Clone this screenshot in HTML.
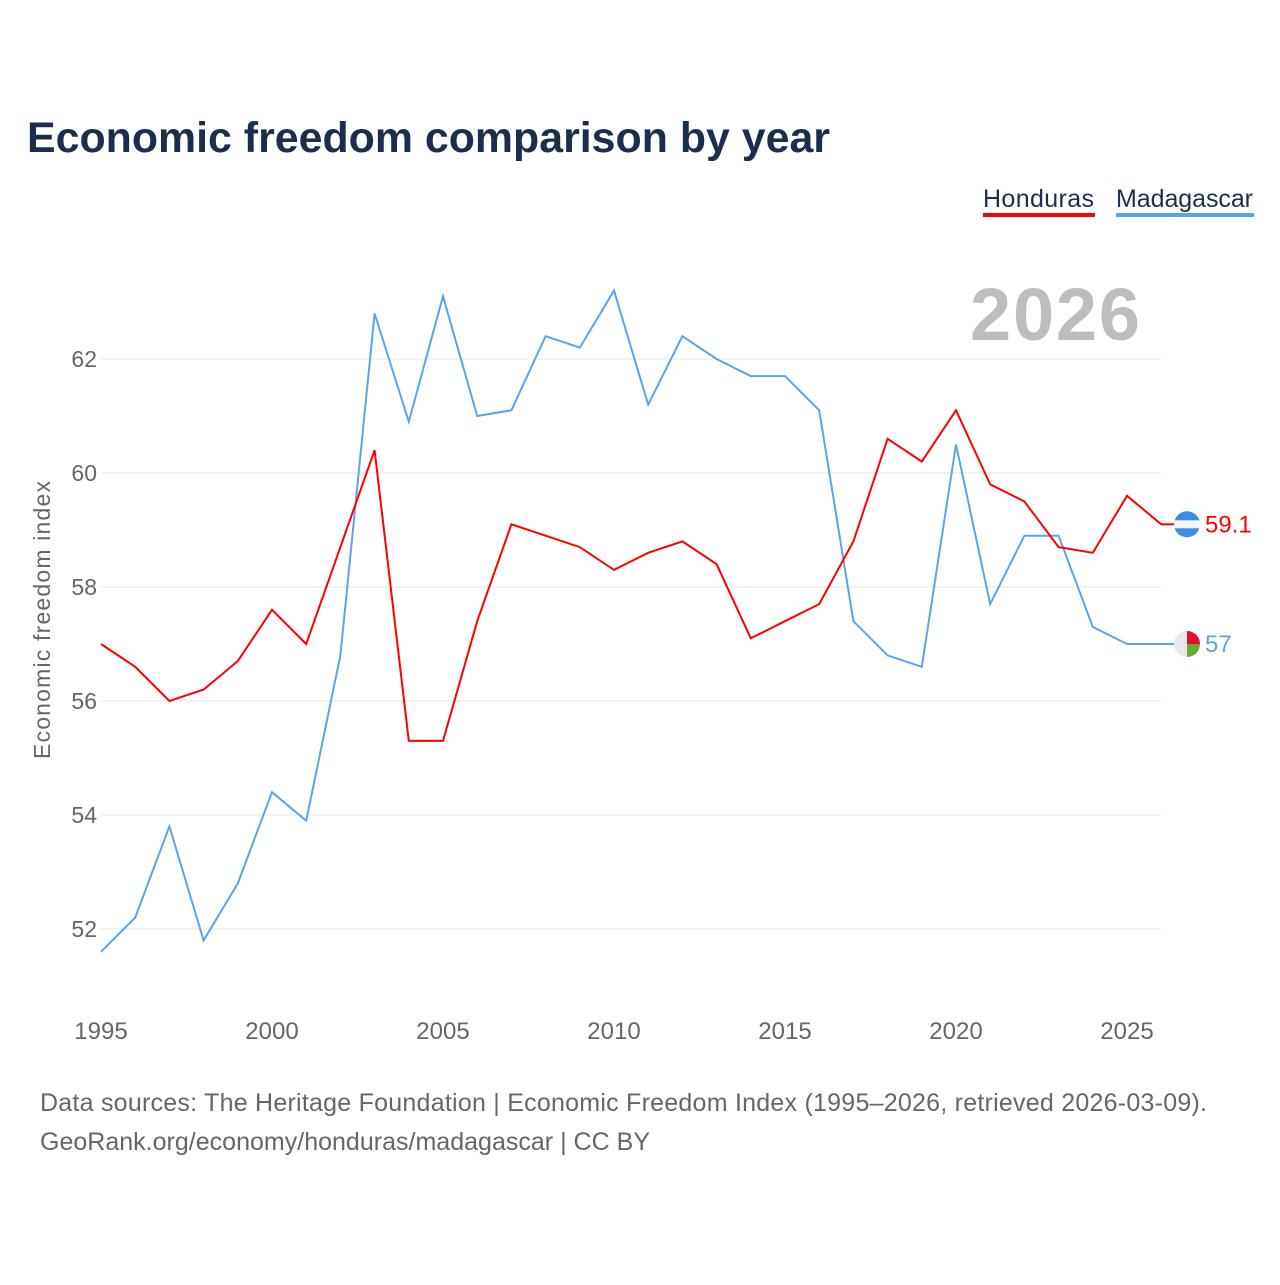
<!DOCTYPE html>
<html><head><meta charset="utf-8"><style>
body{margin:0;background:#fff;font-family:"Liberation Sans",sans-serif;}
</style></head><body>
<svg id="c" width="1280" height="1280" xmlns="http://www.w3.org/2000/svg" style="font-family:'Liberation Sans',sans-serif">
<text x="27" y="152" font-size="43" font-weight="bold" fill="#1c2e4e" textLength="803" lengthAdjust="spacingAndGlyphs">Economic freedom comparison by year</text>
<g>
<text x="983" y="207" font-size="25" fill="#1c2e4e" textLength="111">Honduras</text>
<rect x="983" y="213" width="112" height="4" fill="#f00"/>
<text x="1116" y="207" font-size="25" fill="#1c2e4e" textLength="137">Madagascar</text>
<rect x="1116" y="213" width="138" height="4" fill="#5aa5ea"/>
</g>
<text x="1140" y="340" font-size="74" font-weight="bold" fill="#bdbdbd" text-anchor="end" textLength="170">2026</text>
<g id="grid"></g><g id="lines"></g>
<text transform="translate(50,620) rotate(-90)" font-size="23" fill="#666" text-anchor="middle" textLength="278">Economic freedom index</text>
<text x="40" y="1111" font-size="25" fill="#666" textLength="1167">Data sources: The Heritage Foundation | Economic Freedom Index (1995–2026, retrieved 2026-03-09).</text>
<text x="40" y="1150" font-size="25" fill="#666" textLength="610">GeoRank.org/economy/honduras/madagascar | CC BY</text>
</svg>
<script>
const years=[];for(let y=1995;y<=2026;y++)years.push(y);
const honduras=[57.0,56.6,56.0,56.2,56.7,57.6,57.0,58.7,60.4,55.3,55.3,57.4,59.1,58.9,58.7,58.3,58.6,58.8,58.4,57.1,57.4,57.7,58.8,60.6,60.2,61.1,59.8,59.5,58.7,58.6,59.6,59.1];
const madagascar=[51.6,52.2,53.8,51.8,52.8,54.4,53.9,56.8,62.8,60.9,63.1,61.0,61.1,62.4,62.2,63.2,61.2,62.4,62.0,61.7,61.7,61.1,57.4,56.8,56.6,60.5,57.7,58.9,58.9,57.3,57.0,57.0];
const yTicks=[52,54,56,58,60,62];
const xTicks=[1995,2000,2005,2010,2015,2020,2025];
const NS="http://www.w3.org/2000/svg";
const X=y=>101+(y-1995)*34.2, Y=v=>359+(62-v)*57;
function mk(t,a,p){const e=document.createElementNS(NS,t);for(const k in a)e.setAttribute(k,a[k]);p.appendChild(e);return e;}
const g=document.getElementById('grid'),L=document.getElementById('lines');
yTicks.forEach(v=>{
 const l=mk('line',{x1:101,x2:1161,y1:Y(v),y2:Y(v),stroke:'#e6e6e6'},g);
 
 
 const t=mk('text',{x:97,y:Y(v)+8,'font-size':23,fill:'#666','text-anchor':'end'},g);t.textContent=v;
 
 
});
xTicks.forEach(v=>{
 const t=mk('text',{x:X(v),y:1039,'font-size':24,fill:'#666','text-anchor':'middle'},g);t.textContent=v;
 
 
});
function series(d,col,name){
 const p=mk('polyline',{points:d.map((v,i)=>X(years[i])+','+Y(v)).join(' '),fill:'none',stroke:col,'stroke-width':2},L);
 
 
 const last=d[d.length-1],ly=Y(last);
 mk('line',{x1:1161,x2:1175,y1:ly,y2:ly,stroke:col,'stroke-width':2},L);
 const c=mk('circle',{cx:1187,cy:ly,r:13,fill:name=='honduras'?'#3b8ee8':'#e8e8e8'},L);
 
 
 if(name=='madagascar'){
  mk('path',{d:`M1187 ${ly-13} A13 13 0 0 1 1200 ${ly} L1187 ${ly} Z`,fill:'#e0102f'},L);
  mk('path',{d:`M1187 ${ly} L1200 ${ly} A13 13 0 0 1 1187 ${ly+13} Z`,fill:'#6aa83d'},L);
 } else mk('rect',{x:1174,y:ly-4,width:26,height:8,fill:'#f3f6fb'},L);
 const t=mk('text',{x:1205,y:ly+8,'font-size':24,fill:col},L);t.textContent=last;
 
 
}
series(madagascar,'#5aa5ea','madagascar');
series(honduras,'#ff0000','honduras');
</script>
</body></html>
